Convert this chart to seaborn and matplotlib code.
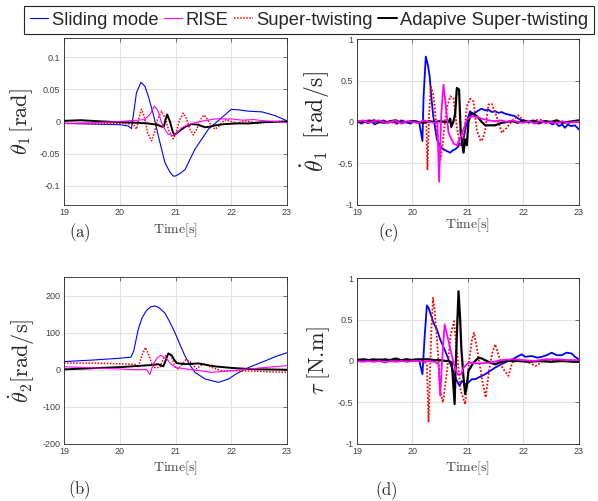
import matplotlib
matplotlib.use("Agg")
import matplotlib.pyplot as plt
import seaborn as sns

# ---------------- (a) theta_1 [rad] ----------------
a_sm_t = [19.0, 19.5, 20.0, 20.15, 20.21, 20.3, 20.38, 20.45, 20.51, 20.6, 20.69, 20.81, 20.9, 20.96,
          21.0, 21.08, 21.17, 21.35, 21.59, 21.83, 22.0, 22.15, 22.31, 22.55, 22.79, 23.0]
a_sm_v = [-0.003, -0.004, -0.005, -0.007, -0.011, 0.045, 0.061, 0.055, 0.040, 0.012, -0.022, -0.064, -0.079, -0.085,
          -0.085, -0.081, -0.075, -0.043, -0.012, 0.006, 0.019, 0.018, 0.016, 0.015, 0.009, 0.001]

a_rise_t = [19.0, 19.5, 20.0, 20.3, 20.45, 20.55, 20.62, 20.68, 20.75, 20.82, 20.87, 20.96, 21.03, 21.11,
            21.2, 21.35, 21.5, 21.71, 22.0, 22.2, 22.4, 22.6, 22.8, 23.0]
a_rise_v = [-0.003, -0.002, 0.0, 0.002, 0.003, 0.012, 0.024, 0.018, -0.002, -0.014, -0.02, -0.022, -0.018, -0.01,
            -0.006, -0.002, 0.001, 0.004, 0.004, 0.002, 0.003, 0.001, 0.0, -0.002]

a_st_t = [19.0, 19.5, 20.0, 20.24, 20.3, 20.35, 20.39, 20.44, 20.5, 20.57, 20.62, 20.68, 20.75, 20.81, 20.88,
          20.96, 21.01, 21.07, 21.14, 21.2, 21.26, 21.32, 21.38, 21.45, 21.51, 21.57, 21.64, 21.71, 21.77,
          21.84, 21.91, 22.0, 22.1, 22.27, 22.45, 22.7, 23.0]
a_st_v = [-0.003, -0.003, -0.003, -0.004, -0.012, 0.008, 0.019, 0.008, -0.018, -0.030, -0.018, 0.004, 0.016, 0.006,
          -0.014, -0.027, -0.018, 0.002, 0.013, 0.004, -0.012, -0.021, -0.012, 0.003, 0.010, 0.004, -0.006, -0.012,
          -0.008, -0.001, 0.003, 0.0, -0.003, 0.001, -0.003, 0.0, 0.0]

a_ast_t = [19.0, 19.3, 19.7, 20.0, 20.3, 20.5, 20.67, 20.75, 20.79, 20.82, 20.85, 20.9, 20.95, 20.98, 21.04,
           21.11, 21.2, 21.29, 21.4, 21.53, 21.62, 21.71, 21.89, 22.1, 22.31, 22.6, 23.0]
a_ast_v = [0.001, 0.002, 0.0, -0.001, -0.002, -0.003, -0.005, -0.008, -0.008, 0.002, 0.011, 0.0, -0.016, -0.021, -0.017,
           -0.012, -0.007, -0.004, -0.005, -0.009, -0.008, -0.006, -0.004, -0.003, -0.003, -0.001, 0.0]

# ---------------- (b) theta_2 dot [rad/s] ----------------
b_sm_t = [19.0, 19.5, 20.0, 20.2, 20.25, 20.33, 20.4, 20.48, 20.56, 20.63, 20.7, 20.81, 20.9, 20.99, 21.08,
          21.17, 21.26, 21.35, 21.53, 21.77, 21.95, 22.1, 22.31, 22.61, 22.8, 23.0]
b_sm_v = [22, 26, 31, 34, 50, 108, 140, 160, 170, 172, 168, 153, 128, 100, 68,
          37, 12, -7, -25, -34, -25, -10, 6, 24, 36, 46]

b_rise_t = [19.0, 19.5, 20.0, 20.3, 20.48, 20.54, 20.6, 20.67, 20.74, 20.84, 20.92, 21.0, 21.15, 21.3,
            21.5, 21.65, 21.89, 22.1, 22.31, 22.6, 23.0]
b_rise_v = [8, 5, 2, 0, 1, -13, 15, 32, 39, 30, 15, 6, 3, 0,
            -4, -7, -4, -1, 2, 6, 11]

b_st_t = [19.0, 19.5, 20.0, 20.2, 20.28, 20.33, 20.4, 20.46, 20.52, 20.6, 20.72, 20.78, 20.85, 20.92, 20.99,
          21.05, 21.12, 21.19, 21.26, 21.38, 21.45, 21.52, 21.65, 21.83, 22.1, 22.31, 22.6, 23.0]
b_st_v = [18, 18, 16, 15, 14, 6, 40, 60, 40, 6, 6, 30, 42, 38, 8,
          2, 15, 28, 22, 2, 12, 15, 6, -3, -3, -3, -5, -7]

b_ast_t = [19.0, 19.5, 20.0, 20.3, 20.6, 20.69, 20.75, 20.78, 20.81, 20.87, 20.93, 20.98, 21.02, 21.17,
           21.3, 21.41, 21.71, 22.0, 22.31, 22.6, 23.0]
b_ast_v = [1, 4, 7, 10, 13, 15, 11, 9, 20, 44, 39, 26, 18, 15,
           16, 17, 9, 5, 2, 1, 0]

# ---------------- (c) theta_1 dot [rad/s] ----------------
c_sm_t = [19.0, 19.08, 19.16, 19.24, 19.32, 19.4, 19.48, 19.56, 19.64, 19.72, 19.8, 19.88, 19.96, 20.04, 20.12,
          20.18, 20.2, 20.24, 20.28, 20.31, 20.34, 20.375, 20.44, 20.5, 20.56, 20.62, 20.68, 20.73, 20.77,
          20.82, 20.85, 20.9, 20.95, 21.0, 21.04, 21.08, 21.13, 21.19, 21.25, 21.31, 21.37, 21.43, 21.49,
          21.55, 21.61, 21.67, 21.73, 21.79, 21.85, 21.91, 21.97, 22.03, 22.1, 22.16, 22.22, 22.28, 22.34,
          22.4, 22.46, 22.52, 22.58, 22.64, 22.7, 22.75, 22.8, 22.86, 22.93, 23.0]
c_sm_v = [0.01, -0.02, 0.01, 0.02, -0.03, 0.0, 0.02, -0.01, 0.01, -0.02, 0.02, 0.0, -0.02, 0.01, 0.0,
          -0.23, 0.3, 0.79, 0.68, 0.55, 0.3, 0.07, -0.21, -0.29, -0.33, -0.35, -0.37, -0.34, -0.33,
          -0.3, -0.26, -0.28, -0.1, 0.05, 0.13, 0.09, 0.11, 0.14, 0.16, 0.14, 0.15, 0.12, 0.13,
          0.11, 0.12, 0.1, 0.09, 0.08, 0.07, 0.04, 0.02, 0.01, -0.01, 0.02, 0.0, -0.02, 0.01,
          -0.01, 0.0, -0.03, -0.01, -0.05, -0.03, -0.07, -0.03, -0.05, -0.04, -0.09]

c_rise_t = [19.0, 19.1, 19.2, 19.3, 19.4, 19.5, 19.6, 19.7, 19.8, 19.9, 20.0, 20.1, 20.2, 20.3, 20.4,
            20.45, 20.48, 20.52, 20.56, 20.6, 20.65, 20.74, 20.8, 20.89, 20.98, 21.07, 21.16, 21.25, 21.37,
            21.49, 21.6, 21.7, 21.8, 21.9, 22.0, 22.1, 22.2, 22.3, 22.4, 22.5, 22.6, 22.7, 22.8, 22.9, 23.0]
c_rise_v = [0.0, 0.02, -0.01, 0.01, 0.02, -0.01, 0.0, 0.02, -0.02, 0.01, 0.0, -0.01, 0.02, 0.0, -0.01,
            0.0, -0.72, 0.1, 0.45, 0.2, -0.13, -0.26, -0.28, -0.15, 0.03, 0.07, 0.06, 0.04, 0.02,
            0.01, 0.02, 0.0, 0.02, 0.0, -0.01, 0.01, -0.02, 0.01, -0.01, 0.0, -0.02, 0.01, -0.01, 0.0, 0.0]

c_st_t = [19.0, 19.1, 19.2, 19.3, 19.4, 19.5, 19.6, 19.7, 19.8, 19.9, 20.0, 20.1, 20.2, 20.25, 20.27,
          20.3, 20.33, 20.37, 20.4, 20.45, 20.5, 20.54, 20.58, 20.63, 20.68, 20.74, 20.8, 20.86, 20.92,
          20.98, 21.04, 21.1, 21.16, 21.23, 21.27, 21.31, 21.37, 21.43, 21.52, 21.61, 21.7, 21.79, 21.91,
          22.03, 22.12, 22.21, 22.3, 22.4, 22.6, 22.8, 23.0]
c_st_v = [0.01, -0.01, 0.02, 0.0, -0.01, 0.01, 0.0, -0.02, 0.01, 0.0, 0.01, -0.01, 0.0, 0.0, -0.57,
          0.1, 0.43, 0.35, 0.19, -0.2, -0.47, -0.3, -0.02, 0.2, 0.31, 0.29, -0.06, -0.29, -0.25,
          0.19, 0.28, 0.25, -0.1, -0.23, -0.2, -0.1, 0.21, 0.22, 0.06, -0.13, -0.07, 0.01, 0.08,
          0.0, 0.01, 0.02, 0.03, 0.0, 0.01, -0.01, 0.0]

c_ast_t = [19.0, 19.1, 19.2, 19.3, 19.4, 19.5, 19.6, 19.7, 19.8, 19.9, 20.0, 20.1, 20.2, 20.3, 20.4, 20.5,
           20.6, 20.65, 20.68, 20.7, 20.74, 20.77, 20.8, 20.84, 20.87, 20.92, 20.95, 20.98, 21.01, 21.07,
           21.16, 21.25, 21.31, 21.37, 21.49, 21.61, 21.7, 21.8, 21.9, 22.0, 22.1, 22.2, 22.3, 22.4, 22.5,
           22.6, 22.7, 22.8, 22.9, 23.0]
c_ast_v = [0.0, 0.01, -0.01, 0.02, 0.0, -0.01, 0.01, 0.02, -0.01, 0.0, 0.01, 0.0, -0.01, 0.01, 0.0, 0.01,
           0.0, 0.0, 0.04, -0.06, 0.01, 0.1, 0.41, 0.39, -0.13, -0.37, -0.21, -0.28, 0.01, 0.11,
           0.07, 0.0, -0.04, -0.04, -0.04, -0.01, 0.0, 0.01, -0.01, 0.02, 0.0, 0.01, -0.01, 0.01, 0.0,
           0.02, -0.01, 0.0, 0.01, 0.02]

# ---------------- (d) tau [N.m] ----------------
d_sm_t = [19.0, 19.08, 19.16, 19.24, 19.32, 19.4, 19.48, 19.56, 19.64, 19.72, 19.8, 19.88, 19.96, 20.04, 20.12,
          20.18, 20.22, 20.26, 20.29, 20.32, 20.38, 20.44, 20.5, 20.59, 20.65, 20.71, 20.76, 20.8, 20.85,
          20.89, 20.95, 21.01, 21.07, 21.13, 21.22, 21.31, 21.4, 21.49, 21.6, 21.73, 21.83, 21.91, 21.97,
          22.03, 22.15, 22.25, 22.33, 22.42, 22.51, 22.6, 22.69, 22.78, 22.87, 22.93, 23.0]
d_sm_v = [0.02, 0.01, 0.02, 0.0, 0.01, 0.02, 0.01, 0.0, 0.02, 0.01, 0.0, 0.02, 0.01, 0.02, 0.01,
          -0.16, 0.3, 0.67, 0.64, 0.58, 0.46, 0.38, 0.26, 0.12, 0.02, -0.08, -0.18, -0.24, -0.3,
          -0.24, -0.28, -0.26, -0.22, -0.22, -0.19, -0.16, -0.12, -0.08, -0.04, 0.0, 0.03, 0.06, 0.08,
          0.05, 0.06, 0.04, 0.05, 0.07, 0.1, 0.07, 0.07, 0.1, 0.09, 0.05, 0.02]

d_rise_t = [19.0, 19.1, 19.2, 19.3, 19.4, 19.5, 19.6, 19.7, 19.8, 19.9, 20.0, 20.1, 20.2, 20.3, 20.4,
            20.47, 20.5, 20.53, 20.58, 20.65, 20.74, 20.81, 20.88, 20.92, 21.01, 21.2, 21.4, 21.6, 21.8,
            22.0, 22.2, 22.4, 22.6, 22.8, 23.0]
d_rise_v = [0.0, -0.01, 0.0, -0.01, 0.0, -0.02, 0.0, -0.01, 0.0, -0.01, 0.0, 0.0, -0.01, 0.0, -0.01,
            -0.04, -0.42, -0.04, 0.44, 0.24, -0.02, -0.16, -0.16, -0.08, -0.02, -0.03, -0.02, 0.01, 0.02,
            0.01, 0.0, 0.02, 0.02, 0.01, 0.01]

d_st_t = [19.0, 19.1, 19.2, 19.3, 19.4, 19.5, 19.6, 19.7, 19.8, 19.9, 20.0, 20.1, 20.2, 20.26, 20.29,
          20.34, 20.37, 20.4, 20.43, 20.47, 20.5, 20.55, 20.59, 20.63, 20.69, 20.75, 20.81, 20.87, 20.95,
          21.02, 21.07, 21.11, 21.15, 21.19, 21.26, 21.32, 21.38, 21.44, 21.49, 21.53, 21.62, 21.73, 21.8,
          21.9, 21.98, 22.1, 22.22, 22.34, 22.5, 22.7, 23.0]
d_st_v = [0.0, 0.01, 0.0, 0.01, 0.0, 0.01, 0.0, 0.0, 0.01, 0.0, 0.01, 0.0, 0.0, -0.04, -0.74,
          0.36, 0.76, 0.6, 0.36, 0.0, -0.36, -0.5, -0.3, -0.08, 0.32, 0.48, 0.04, -0.36, -0.52,
          0.0, 0.25, 0.34, 0.2, 0.04, -0.24, -0.44, -0.12, 0.1, 0.2, 0.12, -0.08, -0.18, -0.02,
          0.02, 0.01, -0.02, -0.06, -0.01, 0.0, 0.01, 0.0]

d_ast_t = [19.0, 19.1, 19.2, 19.3, 19.4, 19.5, 19.6, 19.7, 19.8, 19.9, 20.0, 20.1, 20.2, 20.3, 20.4, 20.5,
           20.6, 20.65, 20.71, 20.76, 20.78, 20.83, 20.86, 20.88, 20.92, 20.95, 20.98, 21.01, 21.1, 21.19,
           21.25, 21.31, 21.4, 21.49, 21.6, 21.7, 21.9, 22.1, 22.3, 22.5, 22.7, 22.9, 23.0]
d_ast_v = [0.01, 0.02, 0.01, 0.02, 0.01, 0.02, 0.01, 0.03, 0.01, 0.02, 0.01, 0.02, 0.02, 0.02, 0.01, 0.01,
           0.0, 0.0, -0.02, -0.52, -0.05, 0.84, 0.5, 0.16, -0.2, -0.4, -0.3, -0.12, -0.02, 0.04,
           0.03, 0.01, -0.02, -0.04, -0.01, 0.0, 0.0, -0.01, 0.0, -0.01, 0.0, -0.01, -0.01]

labels = ["Sliding mode", "RISE", "Super-twisting", "Adapive Super-twisting"]
colors = ["#0000ff", "#ff00ff", "#ff0000", "#000000"]
styles = ["-", "-", (0, (1, 1)), "-"]

sns.set_style("white")
plt.rcParams["font.family"] = ["Liberation Sans", "DejaVu Sans"]
plt.rcParams["mathtext.fontset"] = "cm"

fig = plt.figure(figsize=(5.98, 5.01), dpi=100)

panels = [
    dict(rect=[0.107, 0.591, 0.373, 0.333], tag="a", tag_xy=(0.07, -0.168), time_y=-0.15,
         ylabel=r"$\theta_1\,[\mathrm{rad}]$", ylab_x=-0.13, ylab_size=16, ylim=(-0.13, 0.13),
         yticks=[-0.1, -0.05, 0, 0.05, 0.1], yticklabels=["-0.1", "-0.05", "0", "0.05", "0.1"],
         series=[(a_sm_t, a_sm_v), (a_rise_t, a_rise_v), (a_st_t, a_st_v), (a_ast_t, a_ast_v)],
         widths=[0.8, 0.8, 1.1, 1.4]),
    dict(rect=[0.597, 0.591, 0.371, 0.331], tag="c", tag_xy=(0.14, -0.169), time_y=-0.12,
         ylabel=r"$\dot{\theta}_1\;\;[\mathrm{rad/s}]$", ylab_x=-0.113, ylab_size=17, ylim=(-1, 1),
         yticks=[-1, -0.5, 0, 0.5, 1], yticklabels=["-1", "-0.5", "0", "0.5", "1"],
         series=[(c_sm_t, c_sm_v), (c_rise_t, c_rise_v), (c_st_t, c_st_v), (c_ast_t, c_ast_v)],
         widths=[1.3, 1.3, 1.3, 1.6]),
    dict(rect=[0.107, 0.114, 0.373, 0.333], tag="b", tag_xy=(0.07, -0.272), time_y=-0.144,
         ylabel=r"$\dot{\theta}_2[\mathrm{rad/s}]$", ylab_x=-0.121, ylab_size=16, ylim=(-200, 250),
         yticks=[-200, -100, 0, 100, 200], yticklabels=["-200", "-100", "0", "100", "200"],
         series=[(b_sm_t, b_sm_v), (b_rise_t, b_rise_v), (b_st_t, b_st_v), (b_ast_t, b_ast_v)],
         widths=[0.8, 0.8, 1.1, 1.4]),
    dict(rect=[0.597, 0.114, 0.371, 0.331], tag="d", tag_xy=(0.134, -0.28), time_y=-0.144,
         ylabel=r"$\tau\;[\mathrm{N}.\!\mathrm{m}]$", ylab_x=-0.113, ylab_size=16, ylim=(-1, 1),
         yticks=[-1, -0.5, 0, 0.5, 1], yticklabels=["-1", "-0.5", "0", "0.5", "1"],
         series=[(d_sm_t, d_sm_v), (d_rise_t, d_rise_v), (d_st_t, d_st_v), (d_ast_t, d_ast_v)],
         widths=[1.3, 1.3, 1.3, 1.6]),
]

axes = []
for p in panels:
    ax = fig.add_axes(p["rect"])
    # draw order: sliding mode, super-twisting, adaptive, RISE on top like the original
    for k in [0, 2, 3, 1]:
        t, v = p["series"][k]
        sns.lineplot(x=t, y=v, ax=ax, color=colors[k], linestyle=styles[k],
                     linewidth=p["widths"][k], label=labels[k], estimator=None, sort=False)
    if ax.get_legend() is not None:
        ax.get_legend().remove()
    ax.set_xlim(19, 23)
    ax.set_ylim(*p["ylim"])
    ax.set_xticks([19, 20, 21, 22, 23])
    ax.set_xticklabels(["19", "20", "21", "22", "23"])
    ax.set_yticks(p["yticks"])
    ax.set_yticklabels(p["yticklabels"])
    ax.set_axisbelow(True)
    ax.grid(True, color="#e2e2e2", linewidth=0.8)
    ax.tick_params(direction="in", length=3, width=0.5, labelsize=6.5, colors="#404040",
                   top=True, right=True, pad=2.5)
    for s in ax.spines.values():
        s.set_color("#262626")
        s.set_linewidth(0.6)
    ax.set_xlabel("")
    ax.set_ylabel(p["ylabel"], fontsize=p["ylab_size"])
    ax.yaxis.set_label_coords(p["ylab_x"], 0.5)
    ax.text(0.5, p["time_y"], r"$\mathrm{Time[s]}$", transform=ax.transAxes,
            ha="center", va="center", fontsize=10, color="#404040")
    ax.text(p["tag_xy"][0], p["tag_xy"][1], r"$\mathrm{(" + p["tag"] + ")}$", transform=ax.transAxes,
            ha="center", va="center", fontsize=12)
    axes.append(ax)

handles, labs = axes[0].get_legend_handles_labels()
order = [labs.index(l) for l in labels]
leg = fig.legend([handles[i] for i in order], labels, loc="upper center",
                 bbox_to_anchor=(0.517, 0.988), borderaxespad=0, ncol=4, fontsize=13.2,
                 handlelength=1.0, handletextpad=0.2, columnspacing=0.3,
                 borderpad=0.3, frameon=True, fancybox=False, framealpha=1)
leg.get_frame().set_edgecolor("#262626")
leg.get_frame().set_linewidth(0.8)

fig.savefig("out.png", dpi=100)
